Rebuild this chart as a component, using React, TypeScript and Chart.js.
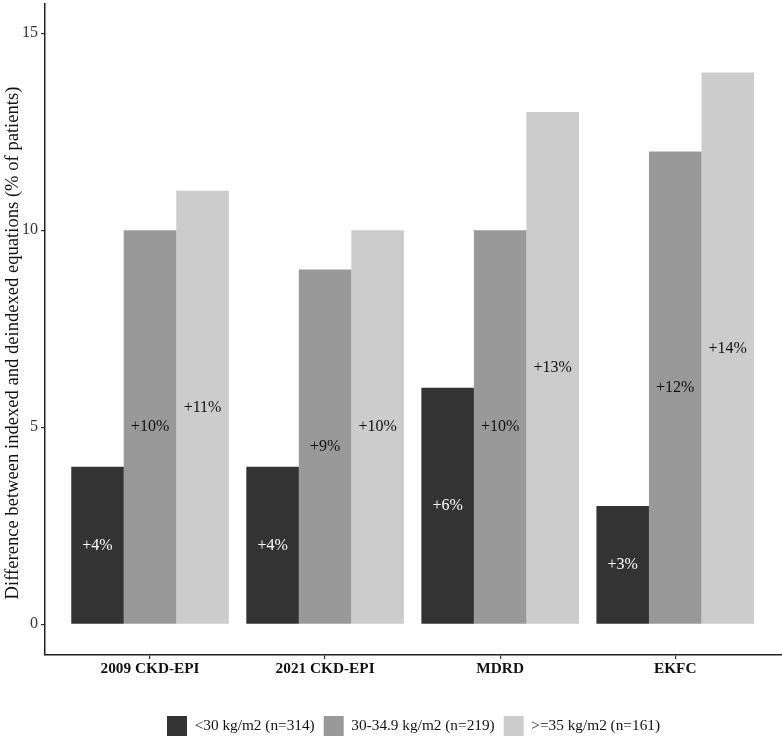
import { useEffect, useRef } from 'react'
import { Chart, registerables } from 'chart.js'

Chart.register(...registerables)

const categories = ['2009 CKD-EPI', '2021 CKD-EPI', 'MDRD', 'EKFC']
const seriesNames = ['<30 kg/m2 (n=314)', '30-34.9 kg/m2 (n=219)', '>=35 kg/m2 (n=161)']
const under30 = [4, 4, 6, 3]
const from30to35 = [10, 9, 10, 12]
const over35 = [11, 10, 13, 14]
const seriesColors = ['#333333', '#999999', '#cccccc']
const labelColors = ['#ffffff', '#111111', '#111111']
const yTicks = [0, 5, 10, 15]
const yTitle = 'Difference between indexed and deindexed equations (% of patients)'

const FONT = '"Liberation Serif", "DejaVu Serif", serif'

// writes "+n%" half-way up each bar
const barLabels = {
  id: 'barLabels',
  afterDatasetsDraw(chart: Chart) {
    const ctx = chart.ctx
    const yScale = chart.scales.y
    ctx.save()
    ctx.font = `16px ${FONT}`
    ctx.textAlign = 'center'
    ctx.textBaseline = 'middle'
    chart.data.datasets.forEach((ds, di) => {
      const meta = chart.getDatasetMeta(di)
      meta.data.forEach((bar, i) => {
        const v = (ds.data[i] as { x: number; y: number }).y
        ctx.fillStyle = labelColors[di]
        ctx.fillText(`+${v}%`, bar.x, yScale.getPixelForValue(v / 2))
      })
    })
    ctx.restore()
  },
}

// y title drawn by hand so it can sit a bit below the panel centre
const sideTitle = {
  id: 'sideTitle',
  afterDraw(chart: Chart) {
    const ctx = chart.ctx
    ctx.save()
    ctx.translate(18, 343)
    ctx.rotate(-Math.PI / 2)
    ctx.font = `18.6px ${FONT}`
    ctx.fillStyle = '#111111'
    ctx.textAlign = 'center'
    ctx.textBaseline = 'alphabetic'
    ctx.fillText(yTitle, 0, 0)
    ctx.restore()
  },
}

export default function App() {
  const canvasRef = useRef<HTMLCanvasElement>(null)

  useEffect(() => {
    document.body.style.margin = '0'
    if (!canvasRef.current) return
    const values = [under30, from30to35, over35]

    const chart = new Chart(canvasRef.current, {
      type: 'bar',
      data: {
        datasets: values.map((vals, s) => ({
          label: seriesNames[s],
          data: vals.map((v, i) => ({ x: i, y: v })),
          backgroundColor: seriesColors[s],
          borderWidth: 0,
          categoryPercentage: 0.9,
          barPercentage: 1,
        })),
      },
      options: {
        animation: false,
        responsive: false,
        layout: { padding: { top: 4, right: 0, left: 0, bottom: -9 } },
        scales: {
          x: {
            type: 'linear',
            offset: false,
            min: -0.6,
            max: 3.61,
            afterBuildTicks: (axis) => {
              axis.ticks = categories.map((_, i) => ({ value: i }))
            },
            afterFit: (axis) => {
              axis.height = 52
              axis.paddingLeft = 0
              axis.paddingRight = 0
            },
            ticks: {
              callback: (v) => categories[Number(v)] ?? '',
              font: { family: FONT, size: 15.3, weight: 'bold' },
              color: '#111111',
              padding: 1,
              maxRotation: 0,
              autoSkip: false,
            },
            grid: { offset: false, drawOnChartArea: false, tickLength: 4, color: '#333333', lineWidth: 1.2 },
            border: { color: '#222222', width: 1.5 },
          },
          y: {
            min: -0.78,
            max: 15.74,
            afterBuildTicks: (axis) => {
              axis.ticks = yTicks.map((v) => ({ value: v }))
            },
            afterFit: (axis) => {
              axis.width = 45
              axis.paddingTop = 0
              axis.paddingBottom = 0
            },
            ticks: {
              font: { family: FONT, size: 16 },
              color: '#333333',
              padding: 3,
            },
            grid: { drawOnChartArea: false, tickLength: 4, color: '#333333', lineWidth: 1.2 },
            border: { color: '#222222', width: 1.5 },
          },
        },
        plugins: {
          legend: {
            position: 'bottom',
            fullSize: false,
            labels: {
              boxWidth: 20,
              boxHeight: 20,
              padding: 9,
              font: { family: FONT, size: 15.3 },
              color: '#111111',
            },
          },
          tooltip: { enabled: false },
        },
      },
      plugins: [barLabels, sideTitle],
    })

    return () => chart.destroy()
  }, [])

  return (
    <div style={{ width: 782, height: 737 }}>
      <canvas ref={canvasRef} width={782} height={737} />
    </div>
  )
}
